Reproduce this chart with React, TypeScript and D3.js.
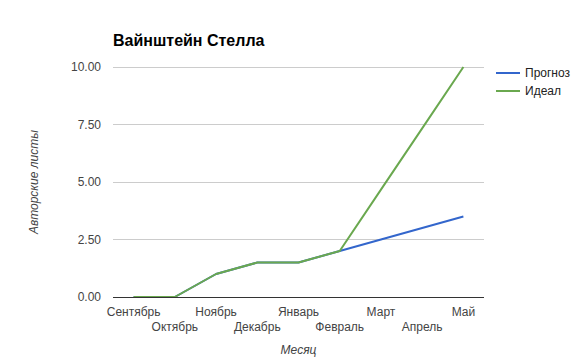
import React, { useEffect, useRef } from 'react';
import * as d3 from 'd3';

const months = ['Сентябрь', 'Октябрь', 'Ноябрь', 'Декабрь', 'Январь', 'Февраль', 'Март', 'Апрель', 'Май'];
const forecast = [0, 0, 1, 1.5, 1.5, 2, 2.5, 3, 3.5];
const ideal = [0, 0, 1, 1.5, 1.5, 2, 4.67, 7.33, 10];
const yTicks = [0, 2.5, 5, 7.5, 10];

const series = [
  { name: 'Прогноз', values: forecast, color: '#3366cc' },
  { name: 'Идеал', values: ideal, color: '#6aa84f' },
];

const App = () => {
  const ref = useRef<SVGSVGElement>(null);

  useEffect(() => {
    const svg = d3.select(ref.current);
    svg.selectAll('*').remove();
    const font = 'Arial, "Liberation Sans", sans-serif';

    const left = 113, right = 484, top = 67, bottom = 297;

    const x = d3.scalePoint<string>().domain(months).range([left, right]).padding(0.5);
    const y = d3.scaleLinear().domain([0, 10]).range([bottom, top]);

    // titolo
    svg.append('text')
      .attr('x', 113).attr('y', 46)
      .attr('font-family', font).attr('font-size', 16).attr('font-weight', 'bold')
      .attr('fill', '#000')
      .text('Вайнштейн Стелла');

    // griglia
    svg.append('g').selectAll('line')
      .data(yTicks.filter(t => t !== 0))
      .join('line')
      .attr('x1', left).attr('x2', right)
      .attr('y1', d => y(d)).attr('y2', d => y(d))
      .attr('stroke', '#cccccc').attr('stroke-width', 1).attr('shape-rendering', 'crispEdges');

    // etichette asse Y
    svg.append('g').selectAll('text')
      .data(yTicks)
      .join('text')
      .attr('x', 101).attr('y', d => y(d) + 4)
      .attr('text-anchor', 'end')
      .attr('font-family', font).attr('font-size', 12).attr('fill', '#444')
      .text(d => d3.format('.2f')(d));

    // linee
    const line = d3.line<number>()
      .x((_, i) => x(months[i]) as number)
      .y(d => y(d));

    svg.append('g').selectAll('path')
      .data(series)
      .join('path')
      .attr('d', d => line(d.values))
      .attr('fill', 'none')
      .attr('stroke', d => d.color)
      .attr('stroke-width', 2)
      .attr('stroke-linejoin', 'round');

    // asse base
    svg.append('line')
      .attr('x1', left).attr('x2', right)
      .attr('y1', bottom).attr('y2', bottom)
      .attr('stroke', '#333').attr('stroke-width', 1).attr('shape-rendering', 'crispEdges');

    // etichette asse X su due righe
    svg.append('g').selectAll('text')
      .data(months)
      .join('text')
      .attr('x', d => x(d) as number)
      .attr('y', (_, i) => (i % 2 === 0 ? 316 : 331))
      .attr('text-anchor', 'middle')
      .attr('font-family', font).attr('font-size', 12).attr('fill', '#444')
      .text(d => d);

    // titoli assi
    svg.append('text')
      .attr('x', (left + right) / 2).attr('y', 354)
      .attr('text-anchor', 'middle')
      .attr('font-family', font).attr('font-size', 12).attr('font-style', 'italic').attr('fill', '#444')
      .text('Месяц');

    svg.append('text')
      .attr('transform', `translate(38,${(top + bottom) / 2}) rotate(-90)`)
      .attr('text-anchor', 'middle')
      .attr('font-family', font).attr('font-size', 12).attr('font-style', 'italic').attr('fill', '#444')
      .text('Авторские листы');

    // legenda
    const legend = svg.append('g').selectAll('g')
      .data(series)
      .join('g')
      .attr('transform', (_, i) => `translate(496,${73 + i * 18})`);
    legend.append('line')
      .attr('x1', 0).attr('x2', 24).attr('y1', 0).attr('y2', 0)
      .attr('stroke', d => d.color).attr('stroke-width', 2);
    legend.append('text')
      .attr('x', 29).attr('y', 4)
      .attr('font-family', font).attr('font-size', 12).attr('fill', '#222')
      .text(d => d.name);
  }, []);

  return (
    <svg ref={ref} width={574} height={361}
      style={{ position: 'absolute', left: 0, top: 0, background: '#fff' }} />
  );
};

export default App;
